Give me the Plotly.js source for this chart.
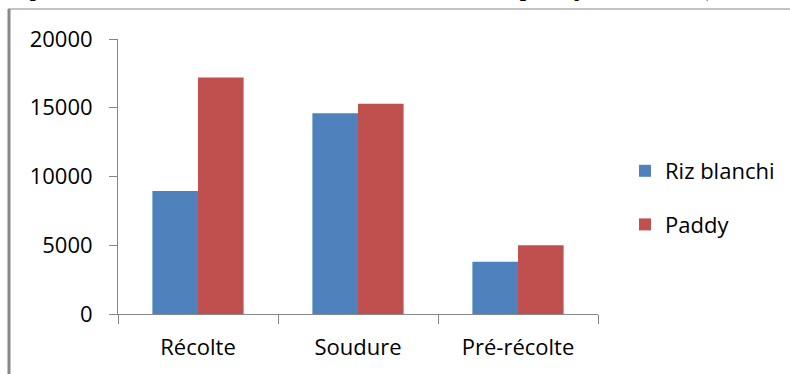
<!DOCTYPE html>
<html>
<head>
<meta charset="utf-8">
<script src="https://cdn.plot.ly/plotly-3.0.1.min.js"></script>
<style>html,body{margin:0;padding:0;background:#fff;}#chart{width:790px;height:374px;}</style>
</head>
<body>
<div id="chart"></div>
<script>
const categories = ["Récolte", "Soudure", "Pré-récolte"];
const seriesNames = ["Riz blanchi", "Paddy"];
const rizBlanchi = [8950, 14600, 3800];
const paddy = [17200, 15300, 5000];
const yTicks = [0, 5000, 10000, 15000, 20000];
const captionText = "que 3 : Quantités totales de riz blanchi et de paddy selon les (";

const W = 790, H = 374;
const M = {l: 118, r: 192, t: 39, b: 60, autoexpand: false};
const pw = W - M.l - M.r, ph = H - M.t - M.b;
const fx = px => (px - M.l) / pw;
const fy = py => (H - M.b - py) / ph;

const font = "Open Sans, Noto Sans, sans-serif";
const traces = [
  {type: "bar", name: seriesNames[0], x: categories, y: rizBlanchi, marker: {color: "#4F81BD"}, legendgroup: "a"},
  {type: "bar", name: seriesNames[1], x: categories, y: paddy, marker: {color: "#C0504D"}, legendgroup: "b"}
];
const layout = {
  width: W, height: H,
  margin: M,
  paper_bgcolor: "#fff", plot_bgcolor: "#fff",
  font: {family: font, size: 22, color: "#000"},
  barmode: "group", bargap: 0.43, bargroupgap: 0,
  xaxis: {
    automargin: false,
    showline: true, linecolor: "#868686", linewidth: 1,
    ticks: "outside", ticklen: 9, tickcolor: "#868686", tickson: "boundaries",
    showgrid: false, zeroline: false, ticklabelstandoff: 14,
    tickfont: {family: font, size: 22, color: "#000"}
  },
  yaxis: {
    automargin: false,
    range: [0, 20000], tickvals: yTicks, ticktext: yTicks.map(String),
    showline: true, linecolor: "#868686", linewidth: 1,
    ticks: "outside", ticklen: 8, tickcolor: "#868686",
    showgrid: false, zeroline: false, ticklabelstandoff: 12,
    tickfont: {family: font, size: 22, color: "#000"}
  },
  legend: {
    x: fx(625), y: fy(150), xanchor: "left", yanchor: "top",
    font: {family: font, size: 22, color: "#000"},
    tracegroupgap: 22, itemwidth: 30, bgcolor: "rgba(0,0,0,0)"
  },
  showlegend: true,
  shapes: [
    {type: "line", xref: "paper", yref: "paper", x0: fx(8), x1: fx(792), y0: fy(9), y1: fy(9), line: {color: "#888", width: 1}},
    {type: "line", xref: "paper", yref: "paper", x0: fx(9), x1: fx(9), y0: fy(9), y1: fy(380), line: {color: "#888", width: 3}}
  ],
  annotations: [
    {xref: "paper", yref: "paper", x: fx(20), y: fy(3), xanchor: "left", yanchor: "bottom", showarrow: false,
     text: captionText, font: {family: "Liberation Serif, Times New Roman, serif", size: 28, color: "#000"}}
  ]
};
Plotly.newPlot("chart", traces, layout, {displayModeBar: false, staticPlot: true});
</script>
</body>
</html>
